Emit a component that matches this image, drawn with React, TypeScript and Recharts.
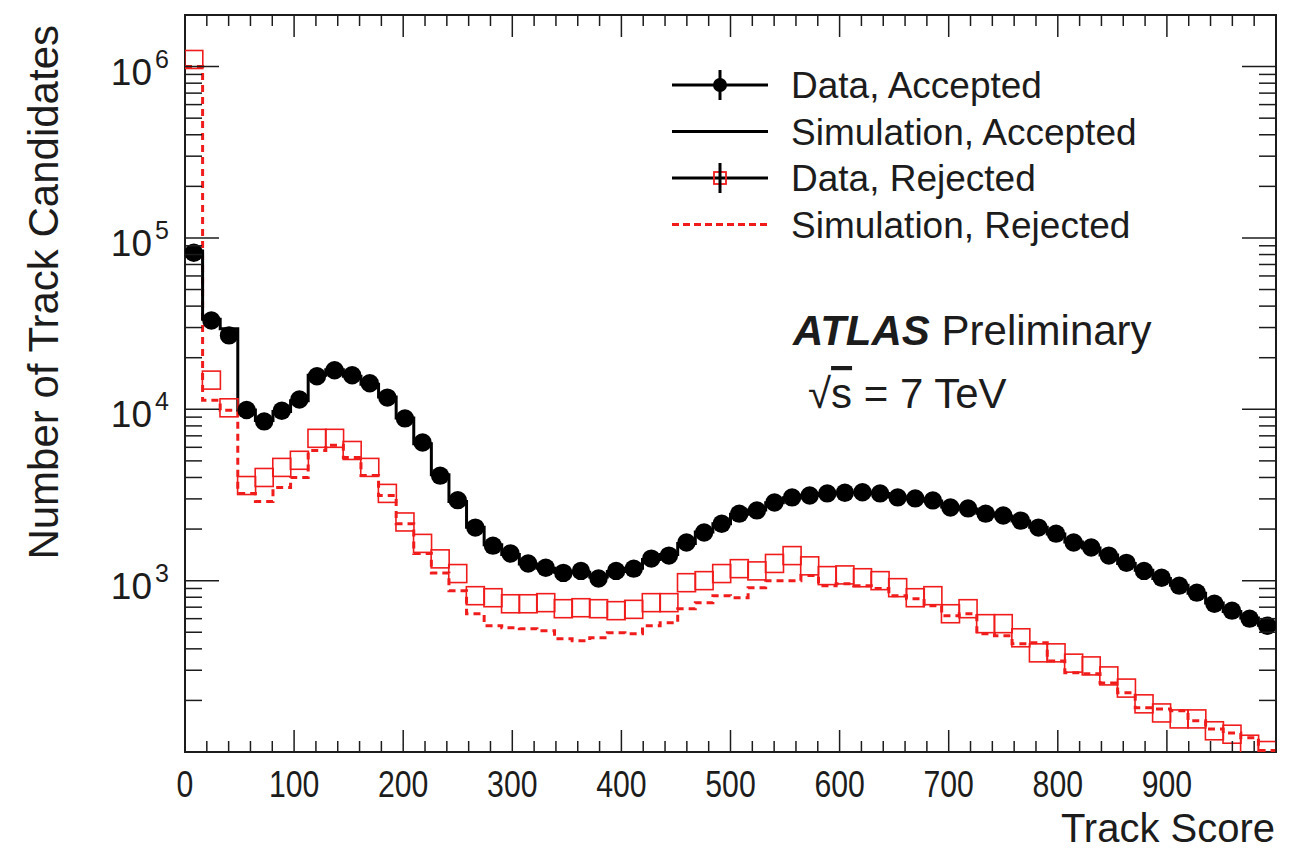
import React from 'react';
import { ComposedChart, Line, Scatter, XAxis, YAxis, ReferenceArea, Legend } from 'recharts';

// 62 equal bins over track score 0..1000
const X_MAX = 1000;

const dataAccepted = [
  82000, 33000, 27000, 9900, 8500, 9800, 11400, 15600, 16900, 15800,
  14200, 11700, 8850, 6400, 4100, 2950, 2040, 1600, 1440, 1260,
  1190, 1110, 1140, 1030, 1140, 1175, 1345, 1400, 1670, 1910,
  2150, 2460, 2570, 2860, 3060, 3140, 3230, 3260, 3280, 3230,
  3060, 3020, 2940, 2670, 2640, 2460, 2400, 2240, 2040, 1880,
  1670, 1560, 1400, 1270, 1140, 1040, 935, 851, 733, 668,
  600, 546,
];

const simAccepted = [
  84000, 33500, 29500, 9900, 8600, 9700, 11200, 15800, 17000, 15600,
  14000, 11800, 8900, 6300, 4150, 2900, 2050, 1620, 1420, 1250,
  1180, 1120, 1120, 1050, 1130, 1180, 1330, 1420, 1650, 1920,
  2150, 2440, 2580, 2850, 3050, 3150, 3220, 3270, 3270, 3220,
  3080, 3000, 2920, 2690, 2620, 2470, 2380, 2230, 2050, 1870,
  1680, 1550, 1410, 1260, 1150, 1030, 940, 845, 740, 660,
  605, 550,
];

const dataRejected = [
  1100000, 14800, 10200, 3590, 4000, 4580, 5040, 6770, 6770, 5750,
  4580, 3230, 2200, 1650, 1340, 1100, 817, 795, 733, 733,
  744, 686, 695, 686, 668, 680, 744, 744, 973, 1000,
  1100, 1175, 1140, 1260, 1400, 1220, 1070, 1080, 1040, 1000,
  910, 795, 817, 641, 686, 561, 561, 464, 379, 379,
  330, 318, 278, 236, 191, 169, 156, 156, 133, 127,
  111, 102,
];

const simRejected = [
  1000000, 11300, 9860, 3230, 2900, 3500, 4000, 5750, 6170, 5240,
  4110, 3140, 2150, 1440, 1110, 874, 641, 546, 531, 524,
  510, 458, 446, 464, 496, 490, 545, 568, 686, 744,
  817, 795, 910, 1000, 1000, 1070, 935, 960, 935, 900,
  817, 785, 714, 624, 641, 490, 477, 428, 434, 340,
  290, 286, 253, 222, 181, 178, 174, 152, 136, 129,
  121, 102,
];

const xMajorTicks = [0, 100, 200, 300, 400, 500, 600, 700, 800, 900];
const yMajorTicks = [1000, 10000, 100000, 1000000];
const yMajorLabels = ['3', '4', '5', '6'];

const legendItems = [
  { key: 'da', label: 'Data, Accepted' },
  { key: 'sa', label: 'Simulation, Accepted' },
  { key: 'dr', label: 'Data, Rejected' },
  { key: 'sr', label: 'Simulation, Rejected' },
];

const W = 1293;
const H = 851;
const PLOT_LEFT = 185;
const PLOT_RIGHT = 1276;
const PLOT_TOP = 15;
const PLOT_BOTTOM = 752;
const FONT = '"Liberation Sans", Arial, Helvetica, sans-serif';
const RED = '#f01c1c';
const INK = '#1c1c1c';

const binWidth = X_MAX / dataAccepted.length;
const toPoints = (vals: number[]) => vals.map((v, i) => ({ x: (i + 0.5) * binWidth, y: v }));
const toSteps = (vals: number[]) => [
  ...vals.map((v, i) => ({ x: i * binWidth, y: v })),
  { x: X_MAX, y: vals[vals.length - 1] },
];

const xTicks: number[] = [];
for (let t = 0; t <= X_MAX; t += 20) xTicks.push(t);
const yTicks: number[] = [];
for (let d = 100; d <= 1000000; d *= 10) {
  for (let m = 1; m <= 9; m++) {
    if (d * m > 100 && d * m < 2000000) yTicks.push(d * m);
  }
}

function XTick(props: any) {
  const { x, payload } = props;
  const v = payload.value;
  const major = v % 100 === 0;
  const len = major ? 22 : 11;
  const label = xMajorTicks.includes(v) ? String(v) : null;
  return (
    <g>
      <line x1={x} x2={x} y1={PLOT_BOTTOM} y2={PLOT_BOTTOM - len} stroke={INK} strokeWidth={1.5} />
      <line x1={x} x2={x} y1={PLOT_TOP} y2={PLOT_TOP + len} stroke={INK} strokeWidth={1.5} />
      {label && (
        <text
          x={x}
          y={PLOT_BOTTOM + 45}
          textAnchor="middle"
          fontSize={37}
          fontFamily={FONT}
          fill={INK}
          textLength={label.length * 16.8}
          lengthAdjust="spacingAndGlyphs"
        >
          {label}
        </text>
      )}
    </g>
  );
}

function YTick(props: any) {
  const { y, payload } = props;
  const v = payload.value;
  const idx = yMajorTicks.indexOf(v);
  const major = idx >= 0;
  const len = major ? 34 : 17;
  return (
    <g>
      <line x1={PLOT_LEFT} x2={PLOT_LEFT + len} y1={y} y2={y} stroke={INK} strokeWidth={1.5} />
      <line x1={PLOT_RIGHT - len} x2={PLOT_RIGHT} y1={y} y2={y} stroke={INK} strokeWidth={1.5} />
      {major && (
        <g fontFamily={FONT} fill={INK}>
          <text x={152} y={y + 18} textAnchor="end" fontSize={37}>10</text>
          <text x={155} y={y + 1} fontSize={25}>{yMajorLabels[idx]}</text>
        </g>
      )}
    </g>
  );
}

function Dot(props: any) {
  const { cx, cy } = props;
  if (cx == null || cy == null) return null;
  return <circle cx={cx} cy={cy} r={9.2} fill="#000" />;
}

function OpenSquare(props: any) {
  const { cx, cy } = props;
  if (cx == null || cy == null) return null;
  return <rect x={cx - 9} y={cy - 9} width={18} height={18} fill="none" stroke={RED} strokeWidth={1.6} />;
}

function LegendBox() {
  const rowH = 46.5;
  return (
    <svg width={560} height={200} style={{ overflow: 'visible' }}>
      {legendItems.map((item, i) => {
        const cy = 20 + i * rowH;
        return (
          <g key={item.key}>
            {item.key === 'sr' ? (
              <line x1={12} x2={108} y1={cy} y2={cy} stroke={RED} strokeWidth={3} strokeDasharray="7 4" />
            ) : (
              <line x1={12} x2={108} y1={cy} y2={cy} stroke="#000" strokeWidth={3} />
            )}
            {item.key === 'da' && (
              <g>
                <line x1={60} x2={60} y1={cy - 15} y2={cy + 15} stroke="#000" strokeWidth={3} />
                <circle cx={60} cy={cy} r={7} fill="#000" />
              </g>
            )}
            {item.key === 'dr' && (
              <g>
                <rect x={54} y={cy - 6} width={12} height={12} fill="none" stroke={RED} strokeWidth={1.8} />
                <line x1={60} x2={60} y1={cy - 15} y2={cy + 15} stroke="#000" strokeWidth={3} />
              </g>
            )}
            <text x={131} y={cy + 13} fontSize={37} fontFamily={FONT} fill={INK}>
              {item.label}
            </text>
          </g>
        );
      })}
    </svg>
  );
}

export default function App() {
  return (
    <div style={{ position: 'absolute', left: 0, top: 0, width: W, height: H, background: '#fff' }}>
      <ComposedChart width={W} height={H} margin={{ top: PLOT_TOP, right: W - PLOT_RIGHT, bottom: 0, left: 0 }}>
        <XAxis
          dataKey="x"
          type="number"
          domain={[0, X_MAX]}
          ticks={xTicks}
          interval={0}
          allowDataOverflow
          height={H - PLOT_BOTTOM}
          axisLine={false}
          tickLine={false}
          tick={XTick}
        />
        <YAxis
          dataKey="y"
          type="number"
          scale="log"
          domain={[100, 2000000]}
          ticks={yTicks}
          interval={0}
          allowDataOverflow
          width={PLOT_LEFT}
          axisLine={false}
          tickLine={false}
          tick={YTick}
        />
        <Line
          data={toSteps(simRejected)}
          dataKey="y"
          type="stepAfter"
          stroke={RED}
          strokeWidth={3}
          strokeDasharray="7 5"
          dot={false}
          isAnimationActive={false}
        />
        <Line
          data={toSteps(simAccepted)}
          dataKey="y"
          type="stepAfter"
          stroke="#000"
          strokeWidth={3}
          dot={false}
          isAnimationActive={false}
        />
        <Scatter data={toPoints(dataRejected)} dataKey="y" shape={OpenSquare} isAnimationActive={false} />
        <Scatter data={toPoints(dataAccepted)} dataKey="y" shape={Dot} isAnimationActive={false} />
        <ReferenceArea
          x1={0}
          x2={X_MAX}
          y1={100}
          y2={2000000}
          fill="none"
          stroke={INK}
          strokeWidth={2}
          ifOverflow="visible"
        />
        <Legend
          layout="vertical"
          align="center"
          verticalAlign="middle"
          content={LegendBox}
          wrapperStyle={{ left: 660, top: 65, width: 560, height: 200 }}
        />
      </ComposedChart>
      <svg width={W} height={H} style={{ position: 'absolute', left: 0, top: 0, pointerEvents: 'none' }}>
        <g fontFamily={FONT} fill={INK}>
          <text transform="translate(58,25) rotate(-90)" textAnchor="end" fontSize={42}>
            Number of Track Candidates
          </text>
          <text x={1275} y={842} textAnchor="end" fontSize={40}>
            Track Score
          </text>
          <text x={793} y={345} fontSize={42}>
            <tspan fontWeight="bold" fontStyle="italic">ATLAS</tspan>
            <tspan> Preliminary</tspan>
          </text>
          <text x={808} y={408} fontSize={42}>
            {'\u221A'}
            <tspan style={{ textDecoration: 'overline' }}>s</tspan>
            <tspan> = 7 TeV</tspan>
          </text>
        </g>
      </svg>
    </div>
  );
}
